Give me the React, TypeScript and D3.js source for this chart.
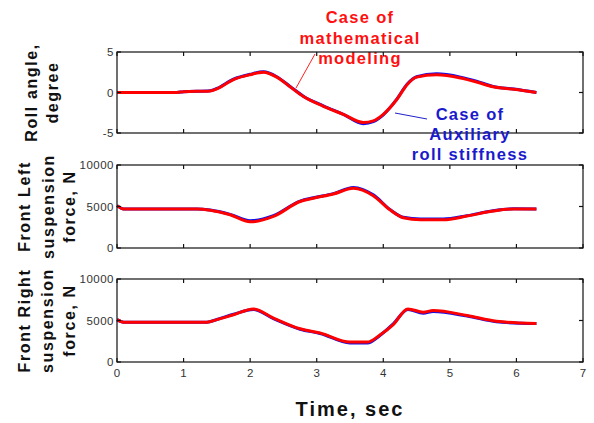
import React from "react";
import * as d3 from "d3";

const W = 594;
const H = 423;

const xTicks = [0, 1, 2, 3, 4, 5, 6, 7];
const rollTicks = [-5, 0, 5];
const forceTicks = [0, 5000, 10000];

const rollT = [0, 0.9, 1.0, 1.4, 1.5, 1.75, 2.0, 2.2, 2.4, 2.6, 2.8, 3.1, 3.4, 3.7, 3.85, 4.0, 4.2, 4.36, 4.5, 4.8, 5.16, 5.4, 5.65, 5.96, 6.3];
const rollRed = [0, 0, 0.1, 0.2, 0.45, 1.6, 2.2, 2.5, 1.9, 0.7, -0.5, -1.7, -2.7, -3.7, -3.5, -2.7, -0.9, 1.0, 1.9, 2.2, 1.8, 1.3, 0.7, 0.4, 0];
const rollBlue = [0, 0, 0.1, 0.22, 0.5, 1.65, 2.25, 2.55, 1.95, 0.75, -0.45, -1.65, -2.7, -3.85, -3.6, -2.75, -0.85, 1.05, 1.95, 2.3, 1.9, 1.4, 0.75, 0.42, 0];

const leftT = [0, 0.1, 1.2, 1.4, 1.7, 2.0, 2.35, 2.75, 2.95, 3.25, 3.55, 3.85, 4.1, 4.3, 4.56, 4.9, 5.26, 5.65, 5.96, 6.3];
const leftRed = [5100, 4700, 4700, 4550, 4000, 3150, 3800, 5600, 6000, 6500, 7200, 6300, 4600, 3650, 3400, 3400, 3850, 4450, 4700, 4700];
const leftBlue = [5100, 4700, 4700, 4580, 4050, 3280, 3900, 5650, 6050, 6550, 7300, 6400, 4650, 3700, 3500, 3500, 3900, 4500, 4720, 4700];

const rightT = [0, 0.1, 1.35, 1.5, 1.75, 2.05, 2.35, 2.75, 3.05, 3.5, 3.76, 3.95, 4.15, 4.37, 4.6, 4.75, 5.26, 5.7, 6.06, 6.3];
const rightRed = [5100, 4800, 4800, 5100, 5700, 6400, 5300, 4000, 3500, 2400, 2400, 3250, 4500, 6400, 6000, 6200, 5600, 4900, 4700, 4650];
const rightBlue = [5100, 4800, 4800, 5120, 5750, 6330, 5220, 3950, 3440, 2300, 2300, 3200, 4600, 6330, 5880, 6080, 5530, 4850, 4680, 4650];

const xLabel = "Time, sec";

const plotX0 = 117;
const plotX1 = 583;

const panels = [
  { top: 52, bottom: 133, domain: [-5, 5], ticks: rollTicks, t: rollT, red: rollRed, blue: rollBlue, label: ["Roll angle,", "degree"], labelX: [31, 52] },
  { top: 165, bottom: 248, domain: [0, 10000], ticks: forceTicks, t: leftT, red: leftRed, blue: leftBlue, label: ["Front Left", "suspension", "force, N"], labelX: [24, 48, 69] },
  { top: 279, bottom: 362, domain: [0, 10000], ticks: forceTicks, t: rightT, red: rightRed, blue: rightBlue, label: ["Front Right", "suspension", "force, N"], labelX: [24, 47, 69] },
];

export default function App() {
  const x = d3.scaleLinear().domain([0, 7]).range([plotX0, plotX1]);
  const font = "Arial, 'Liberation Sans', sans-serif";
  return (
    <svg width={W} height={H} style={{ position: "absolute", left: 0, top: 0, background: "#fff" }} fontFamily={font}>
      <rect x={0} y={0} width={W} height={H} fill="#fff" />
      <g fill="#ff1010" fontWeight="bold" fontSize={16.5} textAnchor="middle" letterSpacing={1.3}>
        <text x={360} y={23}>Case of</text>
        <text x={360} y={44}>mathematical</text>
        <text x={360} y={64}>modeling</text>
      </g>
      {panels.map((p, i) => {
        const y = d3.scaleLinear().domain(p.domain).range([p.bottom, p.top]);
        const data = p.t.map((t, k) => ({ t, r: p.red[k], b: p.blue[k] }));
        const lineR = d3.line<any>().x((d) => x(d.t)).y((d) => y(d.r)).curve(d3.curveMonotoneX);
        const lineB = d3.line<any>().x((d) => x(d.t)).y((d) => y(d.b)).curve(d3.curveMonotoneX);
        const cy = (p.top + p.bottom) / 2;
        return (
          <g key={i}>
            <path d={lineB(data) || ""} fill="none" stroke="#1010ee" strokeWidth={3} />
            <path d={lineR(data) || ""} fill="none" stroke="#ff0000" strokeWidth={3} />
            <rect x={plotX0} y={p.top} width={plotX1 - plotX0} height={p.bottom - p.top} fill="none" stroke="#111" strokeWidth={1.2} />
            {xTicks.map((v) => (
              <g key={v}>
                <line x1={x(v)} x2={x(v)} y1={p.bottom} y2={p.bottom - 4} stroke="#111" strokeWidth={1.2} />
                <line x1={x(v)} x2={x(v)} y1={p.top} y2={p.top + 4} stroke="#111" strokeWidth={1.2} />
              </g>
            ))}
            {p.ticks.map((v) => (
              <g key={v}>
                <line x1={plotX0} x2={plotX0 + 4} y1={y(v)} y2={y(v)} stroke="#111" strokeWidth={1.2} />
                <line x1={plotX1} x2={plotX1 - 4} y1={y(v)} y2={y(v)} stroke="#111" strokeWidth={1.2} />
                <text x={plotX0 - 3} y={y(v) + 4} fontSize={11.5} textAnchor="end" fill="#333" letterSpacing={0.5}>
                  {v}
                </text>
              </g>
            ))}
            {p.label.map((s, k) => (
              <text
                key={k}
                transform={`translate(${p.labelX[k] + 6},${cy}) rotate(-90)`}
                textAnchor="middle"
                fontSize={16}
                fontWeight="bold"
                letterSpacing={1.6}
                fill="#111"
              >
                {s}
              </text>
            ))}
            {i === 2 &&
              xTicks.map((v) => (
                <text key={v} x={x(v)} y={p.bottom + 15} fontSize={11.5} textAnchor="middle" fill="#333">
                  {v}
                </text>
              ))}
          </g>
        );
      })}
      <line x1={315} y1={54} x2={296} y2={88} stroke="#ff2020" strokeWidth={1} />
      <line x1={395} y1={113} x2={427} y2={119} stroke="#2020cc" strokeWidth={1} />
      <g fill="#1a1acc" fontWeight="bold" fontSize={16.5} textAnchor="middle" letterSpacing={1.3}>
        <text x={470} y={120}>Case of</text>
        <text x={470} y={140}>Auxiliary</text>
        <text x={470} y={160}>roll stiffness</text>
      </g>
      <text x={350} y={416} textAnchor="middle" fontSize={20} fontWeight="bold" letterSpacing={2} fill="#111">
        {xLabel}
      </text>
    </svg>
  );
}
